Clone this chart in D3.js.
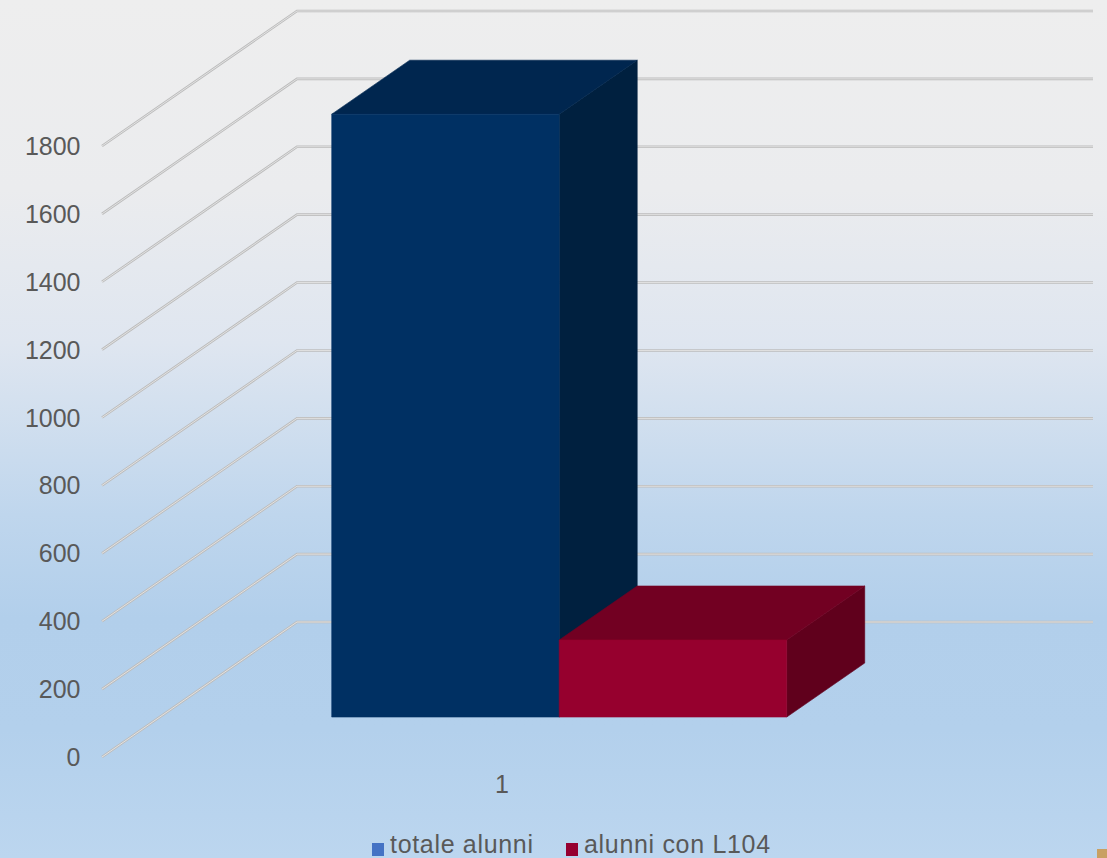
<!DOCTYPE html>
<html>
<head>
<meta charset="utf-8">
<script src="https://cdn.jsdelivr.net/npm/d3@7"></script>
<style>
  html, body { margin: 0; padding: 0; overflow: hidden; }
  text { font-family: "Liberation Sans", Arial, sans-serif; fill: #595959; }
</style>
</head>
<body>
<div id="canvas"></div>
<script>
const categories = ["1"];
const seriesNames = ["totale alunni", "alunni con L104"];
const seriesValues = [1776, 227];
const tickValues = [0, 200, 400, 600, 800, 1000, 1200, 1400, 1600, 1800];

const frontColors = ["#003063", "#96002e"];
const topColors = ["#00264f", "#720022"];
const sideColors = ["#00203f", "#60001c"];
const legendColors = ["#4472c4", "#960030"];

const width = 1107;
const height = 858;

const svg = d3
  .select("#canvas")
  .append("svg")
  .attr("width", width)
  .attr("height", height)
  .style("display", "block");

// background
const grad = svg
  .append("defs")
  .append("linearGradient")
  .attr("id", "bg")
  .attr("x1", 0)
  .attr("y1", 0)
  .attr("x2", 0)
  .attr("y2", 1);
[
  [0, "#eeeeee"],
  [0.22, "#ebecee"],
  [0.4, "#dfe6f0"],
  [0.6, "#bfd6ed"],
  [0.72, "#b2cfeb"],
  [0.85, "#b3d0ec"],
  [1, "#bcd6ef"]
].forEach(([o, c]) => grad.append("stop").attr("offset", o).attr("stop-color", c));

svg.append("rect").attr("width", width).attr("height", height).attr("fill", "url(#bg)");

// scales: y on the front plane, depth goes back and up
const y = d3.scaleLinear().domain([0, 1800]).range([757, 146]);
const depthX = d3.scaleLinear().domain([0, 1]).range([0, 195]);
const depthY = d3.scaleLinear().domain([0, 1]).range([0, -135]);
const xCat = d3.scaleBand().domain(categories).range([102, 898]);
const xSeries = d3
  .scaleBand()
  .domain(seriesNames)
  .range([xCat("1") + 172, xCat("1") + 627]);

const zFront = 0.296;
const zBack = 0.696;

function project(px, value, z) {
  return [px + depthX(z), y(value) + depthY(z)];
}

// gridlines: side wall then back wall, a grey edge with a light core
const gridLine = d3.line();
[["#bcbcbc", 2.6], ["#e2e2e2", 1]].forEach(([color, w]) => {
  svg
    .append("g")
    .selectAll("path")
    .data(tickValues)
    .join("path")
    .attr("fill", "none")
    .attr("stroke", color)
    .attr("stroke-width", w)
    .attr("d", (d) =>
      gridLine([
        project(102, d, 0),
        project(102, d, 1),
        project(898, d, 1)
      ])
    );
});

// y labels
const yAxis = d3
  .axisLeft(y)
  .tickValues(tickValues)
  .tickFormat(d3.format("d"))
  .tickSize(0)
  .tickPadding(0);
const yG = svg.append("g").attr("transform", "translate(80.5,0.5)").call(yAxis);
yG.select(".domain").remove();
yG.selectAll("text").style("font-size", "25px").style("font-family", '"Liberation Sans"').attr("fill", "#595959");

// bars
const bars = svg
  .selectAll(".bar")
  .data(seriesNames)
  .join("g")
  .attr("class", "bar");

const poly = (pts) => pts.map((p) => p.join(",")).join(" ");

bars.each(function (name, i) {
  const g = d3.select(this);
  const x0 = xSeries(name);
  const x1 = x0 + xSeries.bandwidth();
  const v = seriesValues[i];
  g.append("polygon")
    .attr("fill", sideColors[i])
    .attr("stroke", sideColors[i])
    .attr("stroke-width", 0.6)
    .attr("points", poly([
      project(x1, 0, zFront),
      project(x1, 0, zBack),
      project(x1, v, zBack),
      project(x1, v, zFront)
    ]));
  g.append("polygon")
    .attr("fill", topColors[i])
    .attr("stroke", topColors[i])
    .attr("stroke-width", 0.6)
    .attr("points", poly([
      project(x0, v, zFront),
      project(x0, v, zBack),
      project(x1, v, zBack),
      project(x1, v, zFront)
    ]));
  g.append("polygon")
    .attr("fill", frontColors[i])
    .attr("stroke", frontColors[i])
    .attr("stroke-width", 0.6)
    .attr("points", poly([
      project(x0, 0, zFront),
      project(x0, v, zFront),
      project(x1, v, zFront),
      project(x1, 0, zFront)
    ]));
});

// category label
svg
  .append("text")
  .attr("x", 502)
  .attr("y", 793)
  .attr("text-anchor", "middle")
  .style("font-size", "25px")
  .text(categories[0]);

// legend
const legendX = [372, 566];
const legend = svg
  .selectAll(".legend")
  .data(seriesNames)
  .join("g")
  .attr("class", "legend");
legend
  .append("rect")
  .attr("x", (d, i) => legendX[i])
  .attr("y", 843)
  .attr("width", 12)
  .attr("height", 13)
  .attr("fill", (d, i) => legendColors[i]);
legend
  .append("text")
  .attr("x", (d, i) => legendX[i] + 18)
  .attr("y", 852.5)
  .style("font-size", "25px")
  .style("letter-spacing", "0.68px")
  .text((d) => d);

// small mark in the corner of the source picture
svg
  .append("rect")
  .attr("x", 1097)
  .attr("y", 849)
  .attr("width", 10)
  .attr("height", 9)
  .attr("fill", "#c9a063");
</script>
</body>
</html>
